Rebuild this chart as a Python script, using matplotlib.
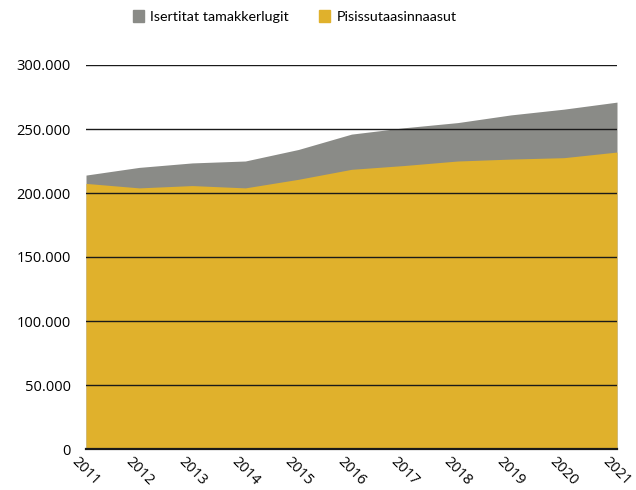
import matplotlib
matplotlib.use("Agg")
import matplotlib.pyplot as plt
from matplotlib.patches import Rectangle
from matplotlib.ticker import FuncFormatter

years = [2011, 2012, 2013, 2014, 2015, 2016, 2017, 2018, 2019, 2020, 2021]
total_income = [214000, 220000, 223500, 225000, 234000, 246000, 251000, 255000, 261000, 265500, 271000]
pisissutaasinnaasut = [207500, 204000, 205800, 204000, 210700, 218500, 221500, 225000, 226500, 227600, 232000]
label_total = "Isertitat tamakkerlugit"
label_pis = "Pisissutaasinnaasut"

grey = "#8a8b87"
yellow = "#e0b12c"

plt.rcParams['font.family'] = ['Open Sans', 'DejaVu Sans']

fig = plt.figure(figsize=(6.36, 4.9), dpi=100)
ax = fig.add_axes([86/636, 1-449/490, (617-86)/636, (449-65)/490])

ax.fill_between(years, 0, total_income, color=grey, linewidth=0, zorder=1)
ax.fill_between(years, 0, pisissutaasinnaasut, color=yellow, linewidth=0, zorder=2)

ax.set_xlim(2011, 2021)
ax.set_ylim(0, 300000)
ax.set_yticks(range(0, 300001, 50000))
ax.yaxis.set_major_formatter(FuncFormatter(lambda v, p: "0" if v == 0 else f"{int(v):,}".replace(",", ".")))
ax.set_xticks(years)
ax.set_xticklabels([str(y) for y in years], rotation=-45, ha='center', va='top')
ax.grid(axis='y', color='#1a1a1a', linewidth=1.0, zorder=3)
ax.axhline(0, color='#1a1a1a', linewidth=1.6, zorder=4, clip_on=False)
ax.set_axisbelow(False)
for s in ax.spines.values():
    s.set_visible(False)
ax.tick_params(axis='both', length=0, labelsize=10.5, colors='black')
ax.tick_params(axis='y', pad=11)
ax.tick_params(axis='x', pad=4)

# legend
fig.patches.append(Rectangle((133/636, 1-22/490), 11/636, 12/490, transform=fig.transFigure, color=grey))
fig.text(150/636, 1-17/490, label_total, fontsize=10.3, va='center', ha='left', family=['Lato', 'DejaVu Sans'])
fig.patches.append(Rectangle((319/636, 1-22/490), 11/636, 12/490, transform=fig.transFigure, color=yellow))
fig.text(337/636, 1-17/490, label_pis, fontsize=10.3, va='center', ha='left', family=['Lato', 'DejaVu Sans'])

fig.savefig("out.png", dpi=100)
